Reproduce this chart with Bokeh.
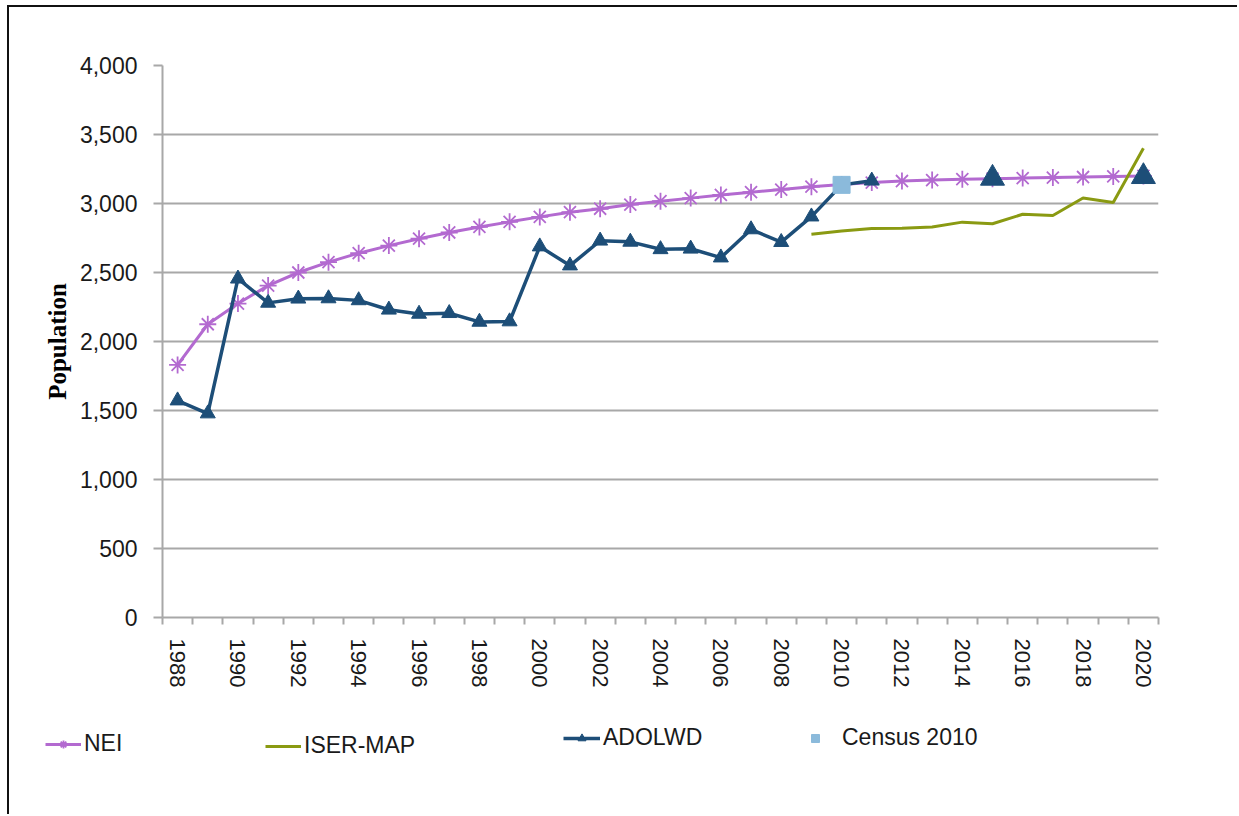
from bokeh.plotting import figure
from bokeh.layouts import column
from bokeh.models import (FixedTicker, NumeralTickFormatter, Range1d, Legend, LegendItem)
from bokeh.embed import file_html
from bokeh.resources import INLINE

years_nei = list(range(1988, 2021))
nei = [1830, 2125, 2275, 2405, 2500, 2575, 2640, 2695, 2745, 2790, 2830, 2867, 2903,
       2937, 2962, 2992, 3017, 3039, 3062, 3082, 3101, 3122, 3138, 3152, 3163, 3170,
       3176, 3180, 3184, 3188, 3192, 3196, 3200]

years_adolwd = list(range(1988, 2012))
adolwd = [1572, 1478, 2455, 2280, 2310, 2312, 2298, 2230, 2200, 2205, 2142, 2145, 2688,
          2550, 2730, 2722, 2668, 2672, 2608, 2812, 2720, 2905, 3135, 3165]

years_adolwd_proj = [2015, 2020]
adolwd_proj = [3183, 3195]

years_iser = list(range(2009, 2021))
iser = [2778, 2800, 2818, 2820, 2830, 2865, 2853, 2922, 2913, 3040, 3008, 3400]

years_census = [2010]
census = [3135]

y_ticks = [0, 500, 1000, 1500, 2000, 2500, 3000, 3500, 4000]
x_label_years = list(range(1988, 2021, 2))

NEI_C = "#b36ad0"
ISER_C = "#8a9a12"
ADOLWD_C = "#1d4e78"
CENSUS_C = "#8bbadb"
GRID_C = "#a8a8a8"
FONT = "Liberation Sans"
BORDER = "2px solid #111111"

# ---------------- main chart ----------------
p = figure(width=1230, height=693, output_backend="svg", toolbar_location=None,
           x_range=Range1d(1987.5, 2020.5), y_range=Range1d(0, 4000),
           min_border_left=153, min_border_right=81, min_border_top=58, min_border_bottom=83)
p.outline_line_color = None
p.background_fill_color = "white"
p.border_fill_color = "white"
p.margin = (5, 0, 0, 7)
p.styles = {"border-left": BORDER, "border-top": BORDER}
p.frame_align = False

p.xgrid.grid_line_color = None
p.ygrid.grid_line_color = GRID_C
p.ygrid.grid_line_width = 2
p.ygrid.ticker = FixedTicker(ticks=y_ticks)

p.yaxis.ticker = FixedTicker(ticks=y_ticks)
p.yaxis.formatter = NumeralTickFormatter(format="0,0")
p.yaxis.axis_line_color = GRID_C
p.yaxis.axis_line_width = 2
p.yaxis.major_tick_line_color = GRID_C
p.yaxis.major_tick_line_width = 2
p.yaxis.major_tick_out = 9
p.yaxis.major_tick_in = 0
p.yaxis.minor_tick_line_color = None
p.yaxis.major_label_text_font = FONT
p.yaxis.major_label_text_font_size = "23px"
p.yaxis.major_label_text_color = "#1a1a1a"
p.yaxis.major_label_standoff = 16
p.yaxis.axis_label = "Population"
p.yaxis.axis_label_text_font = "Liberation Serif"
p.yaxis.axis_label_text_font_style = "bold"
p.yaxis.axis_label_text_font_size = "25px"
p.yaxis.axis_label_text_color = "#000000"
p.yaxis.axis_label_standoff = 6

boundaries = [y - 0.5 for y in range(1988, 2022)]
p.xaxis.ticker = FixedTicker(ticks=x_label_years, minor_ticks=boundaries)
p.xaxis.axis_line_color = GRID_C
p.xaxis.axis_line_width = 2
p.xaxis.major_tick_line_color = None
p.xaxis.major_tick_out = 0
p.xaxis.major_tick_in = 0
p.xaxis.minor_tick_line_color = GRID_C
p.xaxis.minor_tick_line_width = 2
p.xaxis.minor_tick_out = 7
p.xaxis.minor_tick_in = 0
p.xaxis.major_label_orientation = "vertical"
p.xaxis.major_label_text_font = FONT
p.xaxis.major_label_text_font_size = "22px"
p.xaxis.major_label_text_color = "#1a1a1a"
p.xaxis.major_label_standoff = 14

NEI_LINE = dict(line_color=NEI_C, line_width=3)
NEI_MARK = dict(marker="asterisk", size=17, line_color=NEI_C, line_width=1.8)
AD_LINE = dict(line_color=ADOLWD_C, line_width=3.5)
AD_MARK = dict(marker="triangle", size=15, fill_color=ADOLWD_C, line_color=ADOLWD_C)
ISER_LINE = dict(line_color=ISER_C, line_width=3)
CEN_MARK = dict(marker="square", size=17, fill_color=CENSUS_C, line_color=CENSUS_C)

p.line(years_nei, nei, **NEI_LINE)
p.scatter(years_nei, nei, **NEI_MARK)
p.line(years_adolwd, adolwd, **AD_LINE)
p.scatter(years_adolwd, adolwd, **AD_MARK)
p.scatter(years_adolwd_proj, adolwd_proj, marker="triangle", size=24,
          fill_color=ADOLWD_C, line_color=ADOLWD_C)
p.line(years_iser, iser, **ISER_LINE)
p.scatter(years_census, census, **CEN_MARK)

# ---------------- legend strip ----------------
lg = figure(width=1230, height=116, output_backend="svg", toolbar_location=None,
            x_axis_type=None, y_axis_type=None,
            x_range=Range1d(0, 1), y_range=Range1d(0, 1),
            min_border_left=0, min_border_right=0, min_border_top=0, min_border_bottom=0)
lg.outline_line_color = None
lg.xgrid.grid_line_color = None
lg.ygrid.grid_line_color = None
lg.margin = (0, 0, 0, 7)
lg.styles = {"border-left": BORDER}
lg.frame_align = False

# legend-only proxies (placed outside the visible range)
off = [-10, -11]
r_nei_l = lg.line(off, off, **NEI_LINE)
r_nei_m = lg.scatter(off, off, **NEI_MARK)
r_iser = lg.line(off, off, **ISER_LINE)
r_ad_l = lg.line(off, off, **AD_LINE)
r_ad_m = lg.scatter(off, off, **AD_MARK)
r_cen = lg.scatter(off, off, **CEN_MARK)


def make_legend(label, renderers, loc, glyph_w, standoff):
    leg = Legend(items=[LegendItem(label=label, renderers=renderers)], location=loc,
                 orientation="horizontal", padding=0, margin=0, spacing=0,
                 glyph_width=glyph_w, glyph_height=20, label_standoff=standoff,
                 label_height=20,
                 label_text_font=FONT, label_text_font_size="23px",
                 label_text_color="#1a1a1a", border_line_alpha=0,
                 background_fill_alpha=0)
    lg.add_layout(leg, "center")


make_legend("NEI", [r_nei_l, r_nei_m], (36, 57), 36, 3)
make_legend("ISER-MAP", [r_iser], (256, 55), 36, 3)
make_legend("ADOLWD", [r_ad_l, r_ad_m], (554, 63), 37, 3)
make_legend("Census 2010", [r_cen], (796, 63), 20, 17)

layout = column(p, lg, spacing=0)
open("out.html", "w").write(file_html(layout, INLINE))
